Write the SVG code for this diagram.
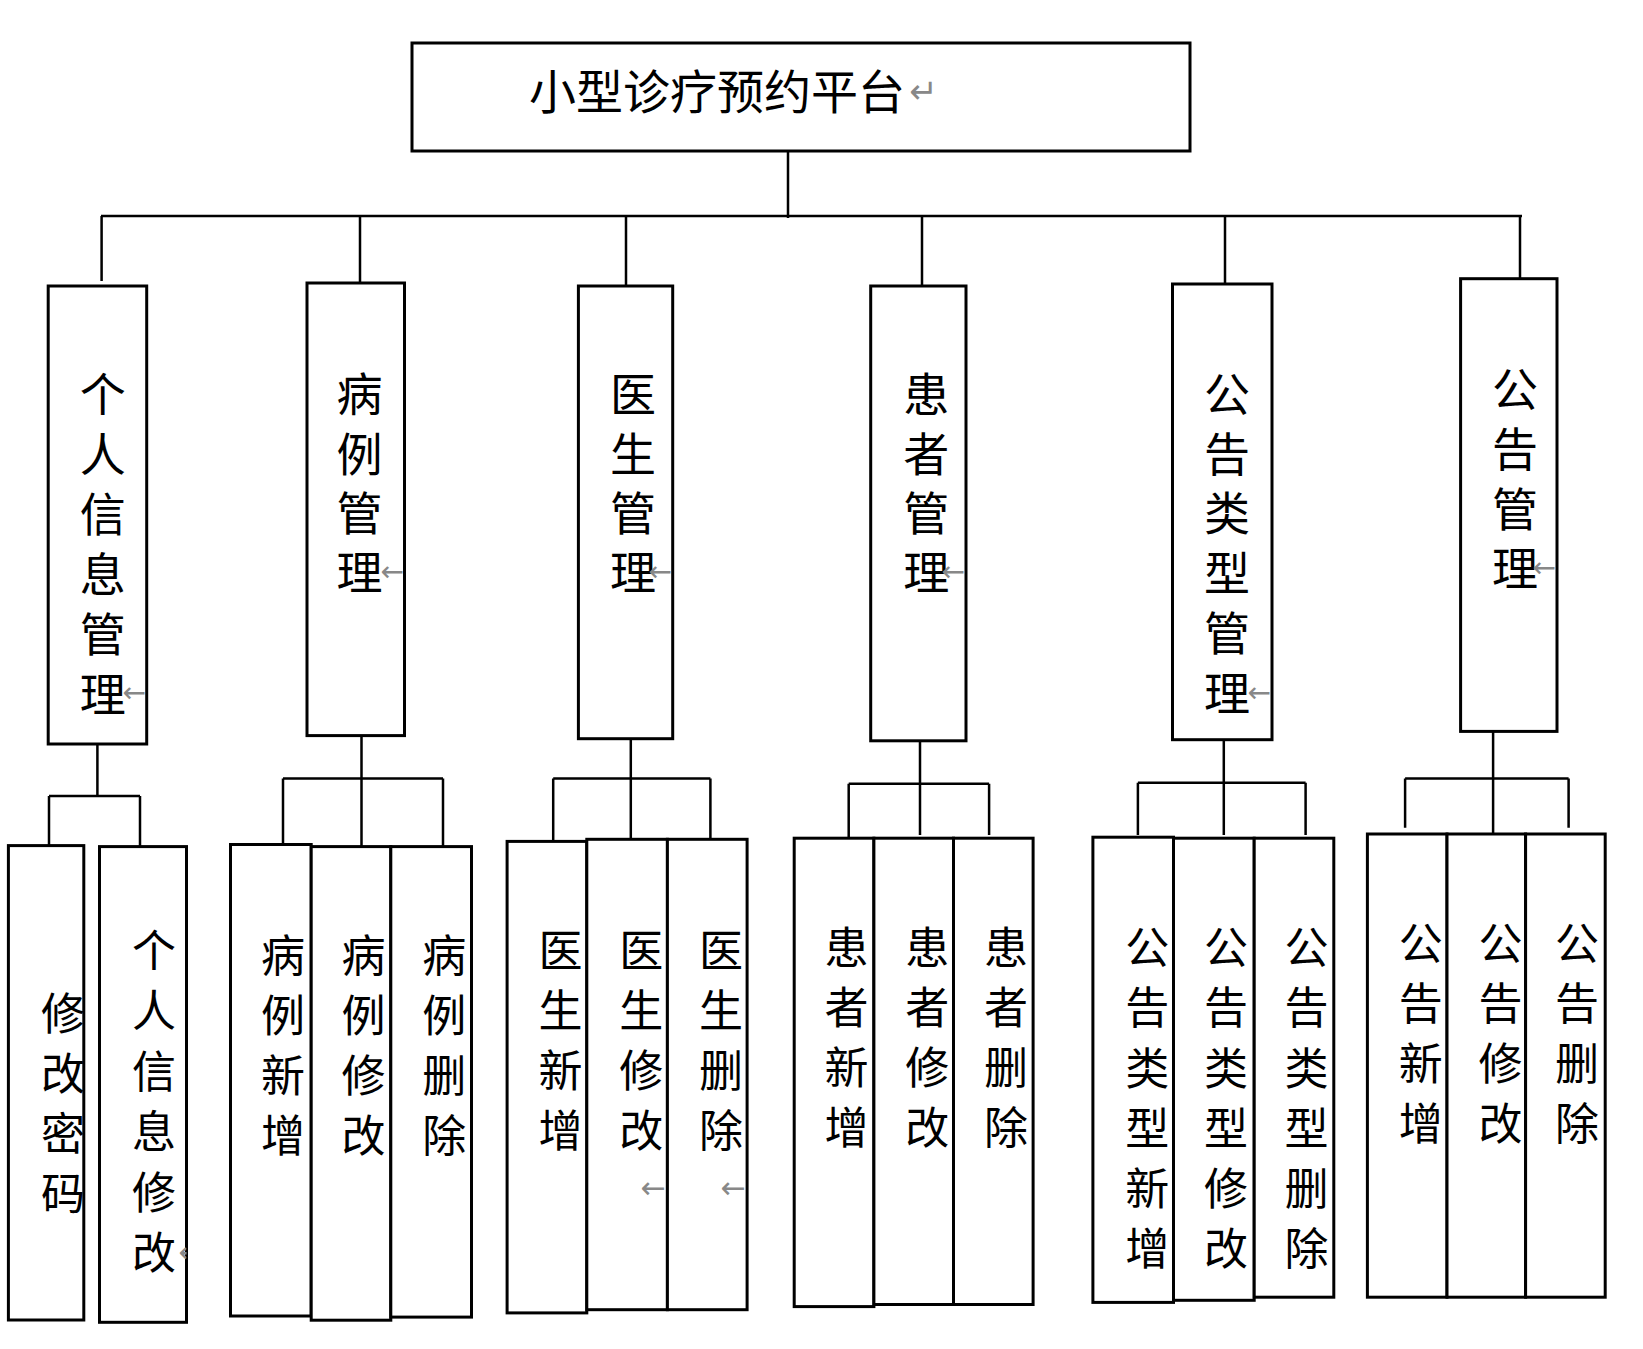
<svg xmlns="http://www.w3.org/2000/svg" width="1643" height="1349" viewBox="0 0 1643 1349">
<style>
.box{fill:#fff;stroke:#000;stroke-width:3}
.ln{stroke:#000;stroke-width:2.5;fill:none}
.t1{font-family:"Noto Sans CJK SC",sans-serif;font-size:47px;fill:#000;dominant-baseline:central}
.t2{font-family:"Noto Sans CJK SC",sans-serif;font-size:46px;fill:#000;text-anchor:middle;dominant-baseline:central}
.t3{font-family:"Noto Sans CJK SC",sans-serif;font-size:44px;fill:#000;text-anchor:middle;dominant-baseline:central}
.mk{font-family:"DejaVu Sans",sans-serif;font-size:28px;fill:#888;text-anchor:end;dominant-baseline:central}
</style>
<defs>
<clipPath id="cA1"><rect x="8.4" y="845.6" width="75.4" height="474.4"/></clipPath>
<clipPath id="cA2"><rect x="99.5" y="846.6" width="87" height="475.7"/></clipPath>
</defs>
<rect x="0" y="0" width="1643" height="1349" fill="#fff"/>
<g id="connectors">
<path class="ln" d="M788 151V218M101 216H1522"/>
<path class="ln" d="M101.6 216V281M360 216V283M626 216V286M922 216V286M1225 216V284M1520 216V279"/>
<path class="ln" d="M97.4 744V796M49 796H140M49 796V845M140 796V846"/>
<path class="ln" d="M361.5 735.6V846.6M283 778.5H443M283 778.5V844.5M443 778.5V846.6"/>
<path class="ln" d="M630.8 738.7V839.3M553.2 778.5H710.4M553.2 778.5V841.4M710.4 778.5V839.3"/>
<path class="ln" d="M920 740.8V835M848.7 783.8H989.1M848.7 783.8V838.2M989.1 783.8V835"/>
<path class="ln" d="M1223.8 739.7V835M1137.9 782.7H1305.6M1137.9 782.7V835M1305.6 782.7V835"/>
<path class="ln" d="M1493.1 731.4V833M1405.1 778.5H1568.6M1405.1 778.5V827.8M1568.6 778.5V827.8"/>
</g>
<g id="root">
<rect class="box" x="412" y="43" width="778" height="108"/>
<text class="t1" x="529" y="88">小型诊疗预约平台</text>
<text class="mk" x="938" y="91" style="font-size:34px">↵</text>
</g>
<g id="n1">
<rect class="box" x="48.2" y="286" width="98.5" height="458"/>
<text class="t2"><tspan x="102.7" y="391">个</tspan><tspan x="102.7" y="451">人</tspan><tspan x="102.7" y="511">信</tspan><tspan x="102.7" y="571">息</tspan><tspan x="102.7" y="631">管</tspan><tspan x="102.7" y="691">理</tspan></text>
<text class="mk" x="146" y="692">←</text>
</g>
<g id="n2">
<rect class="box" x="307" y="283" width="97.5" height="452.6"/>
<text class="t2"><tspan x="359.4" y="391">病</tspan><tspan x="359.4" y="451">例</tspan><tspan x="359.4" y="510">管</tspan><tspan x="359.4" y="569">理</tspan></text>
<text class="mk" x="404" y="571">←</text>
</g>
<g id="n3">
<rect class="box" x="578.4" y="286" width="94.3" height="452.7"/>
<text class="t2"><tspan x="632.9" y="391">医</tspan><tspan x="632.9" y="451">生</tspan><tspan x="632.9" y="510">管</tspan><tspan x="632.9" y="569">理</tspan></text>
<text class="mk" x="672" y="571">←</text>
</g>
<g id="n4">
<rect class="box" x="870.7" y="286" width="95.3" height="454.8"/>
<text class="t2"><tspan x="926.3" y="391">患</tspan><tspan x="926.3" y="451">者</tspan><tspan x="926.3" y="510">管</tspan><tspan x="926.3" y="569">理</tspan></text>
<text class="mk" x="965" y="571">←</text>
</g>
<g id="n5">
<rect class="box" x="1172.5" y="284" width="99.5" height="455.7"/>
<text class="t2"><tspan x="1227" y="391">公</tspan><tspan x="1227" y="451">告</tspan><tspan x="1227" y="510">类</tspan><tspan x="1227" y="570">型</tspan><tspan x="1227" y="630">管</tspan><tspan x="1227" y="690">理</tspan></text>
<text class="mk" x="1271" y="692">←</text>
</g>
<g id="n6">
<rect class="box" x="1460.6" y="278.7" width="96.4" height="452.7"/>
<text class="t2"><tspan x="1515" y="386">公</tspan><tspan x="1515" y="446">告</tspan><tspan x="1515" y="506">管</tspan><tspan x="1515" y="565">理</tspan></text>
<text class="mk" x="1556" y="567">←</text>
</g>
<g id="a1">
<rect class="box" x="8.4" y="845.6" width="75.4" height="474.4"/>
<text class="t3" clip-path="url(#cA1)"><tspan x="63" y="1011">修</tspan><tspan x="63" y="1071">改</tspan><tspan x="63" y="1131">密</tspan><tspan x="63" y="1191">码</tspan></text>
</g>
<g id="a2">
<rect class="box" x="99.5" y="846.6" width="87" height="475.7"/>
<text class="t3"><tspan x="154" y="948">个</tspan><tspan x="154" y="1008">人</tspan><tspan x="154" y="1069">信</tspan><tspan x="154" y="1129">息</tspan><tspan x="154" y="1190">修</tspan><tspan x="154" y="1250">改</tspan></text>
<text class="mk" clip-path="url(#cA2)" x="202" y="1252">←</text>
</g>
<g id="b1">
<rect class="box" x="230.5" y="844.5" width="80.7" height="471.5"/>
<text class="t3"><tspan x="283" y="953">病</tspan><tspan x="283" y="1013">例</tspan><tspan x="283" y="1073">新</tspan><tspan x="283" y="1133">增</tspan></text>
</g>
<g id="b2">
<rect class="box" x="311.2" y="846.6" width="79.6" height="473.6"/>
<text class="t3"><tspan x="363.6" y="953">病</tspan><tspan x="363.6" y="1013">例</tspan><tspan x="363.6" y="1073">修</tspan><tspan x="363.6" y="1133">改</tspan></text>
</g>
<g id="b3">
<rect class="box" x="390.8" y="846.6" width="80.7" height="470.5"/>
<text class="t3"><tspan x="444.3" y="953">病</tspan><tspan x="444.3" y="1013">例</tspan><tspan x="444.3" y="1073">删</tspan><tspan x="444.3" y="1133">除</tspan></text>
</g>
<g id="c1">
<rect class="box" x="507.1" y="841.4" width="79.7" height="471.5"/>
<text class="t3"><tspan x="560.6" y="948">医</tspan><tspan x="560.6" y="1008">生</tspan><tspan x="560.6" y="1068">新</tspan><tspan x="560.6" y="1128">增</tspan></text>
</g>
<g id="c2">
<rect class="box" x="586.8" y="839.3" width="80.6" height="470.4"/>
<text class="t3"><tspan x="641.3" y="948">医</tspan><tspan x="641.3" y="1008">生</tspan><tspan x="641.3" y="1068">修</tspan><tspan x="641.3" y="1128">改</tspan></text>
<text class="mk" x="666" y="1187" style="font-size:30px">←</text>
</g>
<g id="c3">
<rect class="box" x="667.4" y="839.3" width="79.7" height="470.4"/>
<text class="t3"><tspan x="720.9" y="948">医</tspan><tspan x="720.9" y="1008">生</tspan><tspan x="720.9" y="1068">删</tspan><tspan x="720.9" y="1128">除</tspan></text>
<text class="mk" x="746" y="1187" style="font-size:30px">←</text>
</g>
<g id="d1">
<rect class="box" x="794.2" y="838.2" width="79.7" height="468.4"/>
<text class="t3"><tspan x="846.6" y="945">患</tspan><tspan x="846.6" y="1005">者</tspan><tspan x="846.6" y="1065">新</tspan><tspan x="846.6" y="1125">增</tspan></text>
</g>
<g id="d2">
<rect class="box" x="873.9" y="838.2" width="79.6" height="466.3"/>
<text class="t3"><tspan x="927.3" y="945">患</tspan><tspan x="927.3" y="1005">者</tspan><tspan x="927.3" y="1065">修</tspan><tspan x="927.3" y="1125">改</tspan></text>
</g>
<g id="d3">
<rect class="box" x="953.5" y="838.2" width="79.6" height="466.3"/>
<text class="t3"><tspan x="1005.9" y="945">患</tspan><tspan x="1005.9" y="1005">者</tspan><tspan x="1005.9" y="1065">删</tspan><tspan x="1005.9" y="1125">除</tspan></text>
</g>
<g id="e1">
<rect class="box" x="1092.9" y="837.2" width="80.6" height="465.2"/>
<text class="t3"><tspan x="1147.3" y="945">公</tspan><tspan x="1147.3" y="1005">告</tspan><tspan x="1147.3" y="1066">类</tspan><tspan x="1147.3" y="1126">型</tspan><tspan x="1147.3" y="1186">新</tspan><tspan x="1147.3" y="1246">增</tspan></text>
</g>
<g id="e2">
<rect class="box" x="1173.5" y="838.2" width="80.7" height="462.1"/>
<text class="t3"><tspan x="1225.9" y="945">公</tspan><tspan x="1225.9" y="1005">告</tspan><tspan x="1225.9" y="1066">类</tspan><tspan x="1225.9" y="1126">型</tspan><tspan x="1225.9" y="1186">修</tspan><tspan x="1225.9" y="1246">改</tspan></text>
</g>
<g id="e3">
<rect class="box" x="1254.2" y="838.2" width="79.6" height="459"/>
<text class="t3"><tspan x="1306.6" y="945">公</tspan><tspan x="1306.6" y="1005">告</tspan><tspan x="1306.6" y="1066">类</tspan><tspan x="1306.6" y="1126">型</tspan><tspan x="1306.6" y="1186">删</tspan><tspan x="1306.6" y="1246">除</tspan></text>
</g>
<g id="f1">
<rect class="box" x="1367.4" y="834" width="79.6" height="463.2"/>
<text class="t3"><tspan x="1420.8" y="941">公</tspan><tspan x="1420.8" y="1001">告</tspan><tspan x="1420.8" y="1061">新</tspan><tspan x="1420.8" y="1121">增</tspan></text>
</g>
<g id="f2">
<rect class="box" x="1447" y="834" width="78.6" height="463.2"/>
<text class="t3"><tspan x="1500.4" y="941">公</tspan><tspan x="1500.4" y="1001">告</tspan><tspan x="1500.4" y="1061">修</tspan><tspan x="1500.4" y="1121">改</tspan></text>
</g>
<g id="f3">
<rect class="box" x="1525.6" y="834" width="79.6" height="463.2"/>
<text class="t3"><tspan x="1577" y="941">公</tspan><tspan x="1577" y="1001">告</tspan><tspan x="1577" y="1061">删</tspan><tspan x="1577" y="1121">除</tspan></text>
</g>
</svg>
